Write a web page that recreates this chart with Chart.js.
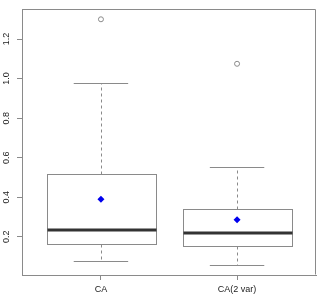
<!DOCTYPE html>
<html>
<head>
<meta charset="utf-8">
<script src="https://cdn.jsdelivr.net/npm/chart.js@4.4.1/dist/chart.umd.min.js"></script>
<style>
  html, body { margin: 0; padding: 0; background: #fff; }
  #wrap { width: 321px; height: 294px; }
</style>
</head>
<body>
<div id="wrap"><canvas id="c"></canvas></div>
<script>
// values
const categories = ['CA', 'CA(2 var)'];
const lowerWhisker = [0.080, 0.057];
const q1 = [0.162, 0.153];
const medians = [0.233, 0.217];
const q3 = [0.517, 0.343];
const upperWhisker = [0.977, 0.553];
const means = [0.390, 0.287];
const outliers = [[1.300], [1.075]];
const yTicks = [0.2, 0.4, 0.6, 0.8, 1.0, 1.2];

const LINE = '#8a8a8a';
const FONT = {family: '"Liberation Sans", Arial, sans-serif', size: 9};

// draws box, median, whiskers and caps from the arrays above
const boxPlugin = {
  id: 'boxes',
  beforeDatasetsDraw(chart) {
    const {ctx, scales: {x, y}} = chart;
    ctx.save();
    categories.forEach((c, i) => {
      const pos = i + 1;
      const xl = x.getPixelForValue(pos - 0.4), xr = x.getPixelForValue(pos + 0.4);
      const cl = x.getPixelForValue(pos - 0.2), cr = x.getPixelForValue(pos + 0.2);
      const xc = Math.round(x.getPixelForValue(pos)) + 0.5;
      const py = v => Math.round(y.getPixelForValue(v)) + 0.5;

      // dashed whiskers
      ctx.strokeStyle = LINE;
      ctx.lineWidth = 1;
      ctx.setLineDash([3, 3]);
      ctx.beginPath();
      ctx.moveTo(xc, py(q3[i])); ctx.lineTo(xc, py(upperWhisker[i]));
      ctx.moveTo(xc, py(q1[i])); ctx.lineTo(xc, py(lowerWhisker[i]));
      ctx.stroke();
      ctx.setLineDash([]);

      // caps
      ctx.beginPath();
      ctx.moveTo(cl, py(upperWhisker[i])); ctx.lineTo(cr, py(upperWhisker[i]));
      ctx.moveTo(cl, py(lowerWhisker[i])); ctx.lineTo(cr, py(lowerWhisker[i]));
      ctx.stroke();

      // box
      ctx.fillStyle = '#fff';
      const top = py(q3[i]), bot = py(q1[i]);
      ctx.fillRect(Math.round(xl) + 0.5, top, Math.round(xr - xl), bot - top);
      ctx.strokeRect(Math.round(xl) + 0.5, top, Math.round(xr - xl), bot - top);

      // median
      ctx.strokeStyle = '#333';
      ctx.lineWidth = 3;
      ctx.beginPath();
      const my = Math.round(y.getPixelForValue(medians[i]));
      ctx.moveTo(Math.round(xl) + 0.5, my); ctx.lineTo(Math.round(xl) + 0.5 + Math.round(xr - xl), my);
      ctx.stroke();
    });
    ctx.restore();
  },
  afterDraw(chart) {
    const {ctx, chartArea: a} = chart;
    ctx.save();
    ctx.strokeStyle = LINE;
    ctx.lineWidth = 1;
    ctx.beginPath();
    ctx.moveTo(Math.round(a.left) + 0.5, Math.round(a.top) + 0.5);
    ctx.lineTo(Math.round(a.right) - 0.5, Math.round(a.top) + 0.5);
    ctx.lineTo(Math.round(a.right) - 0.5, Math.round(a.bottom) - 0.5);
    ctx.stroke();
    ctx.restore();
  }
};

const meanPoints = means.map((m, i) => ({x: i + 1, y: m}));
const outlierPoints = outliers.flatMap((list, i) => list.map(v => ({x: i + 1, y: v})));

new Chart(document.getElementById('c'), {
  type: 'scatter',
  data: {
    datasets: [
      {
        label: 'outliers',
        data: outlierPoints,
        pointStyle: 'circle',
        pointRadius: 2.5,
        borderColor: LINE,
        borderWidth: 1,
        backgroundColor: 'rgba(0,0,0,0)'
      },
      {
        label: 'mean',
        data: meanPoints,
        pointStyle: 'rectRot',
        pointRadius: 3.5,
        borderWidth: 0,
        backgroundColor: '#0000ee'
      }
    ]
  },
  options: {
    responsive: true,
    maintainAspectRatio: false,
    animation: false,
    events: [],
    layout: {padding: {top: 6, right: 3, left: 0, bottom: 0}},
    plugins: {legend: {display: false}, tooltip: {enabled: false}},
    scales: {
      x: {
        type: 'linear',
        min: 0.42,
        max: 2.58,
        afterBuildTicks: s => { s.ticks = categories.map((c, i) => ({value: i + 1})); },
        afterFit: s => { s.height = 19; },
        grid: {drawOnChartArea: false, drawTicks: true, tickLength: 5, color: LINE},
        border: {display: true, color: LINE},
        ticks: {
          callback: v => categories[v - 1],
          maxRotation: 0,
          padding: 4,
          color: '#222',
          font: FONT
        }
      },
      y: {
        type: 'linear',
        min: 0.007,
        max: 1.35,
        afterBuildTicks: s => { s.ticks = yTicks.map(v => ({value: v})); },
        afterFit: s => { s.width = 22; },
        grid: {drawOnChartArea: false, drawTicks: true, tickLength: 5, color: LINE},
        border: {display: true, color: LINE},
        ticks: {
          callback: v => v.toFixed(1),
          minRotation: 90,
          maxRotation: 90,
          crossAlign: 'center',
          padding: 4,
          color: '#222',
          font: FONT
        }
      }
    }
  },
  plugins: [boxPlugin]
});
</script>
</body>
</html>
